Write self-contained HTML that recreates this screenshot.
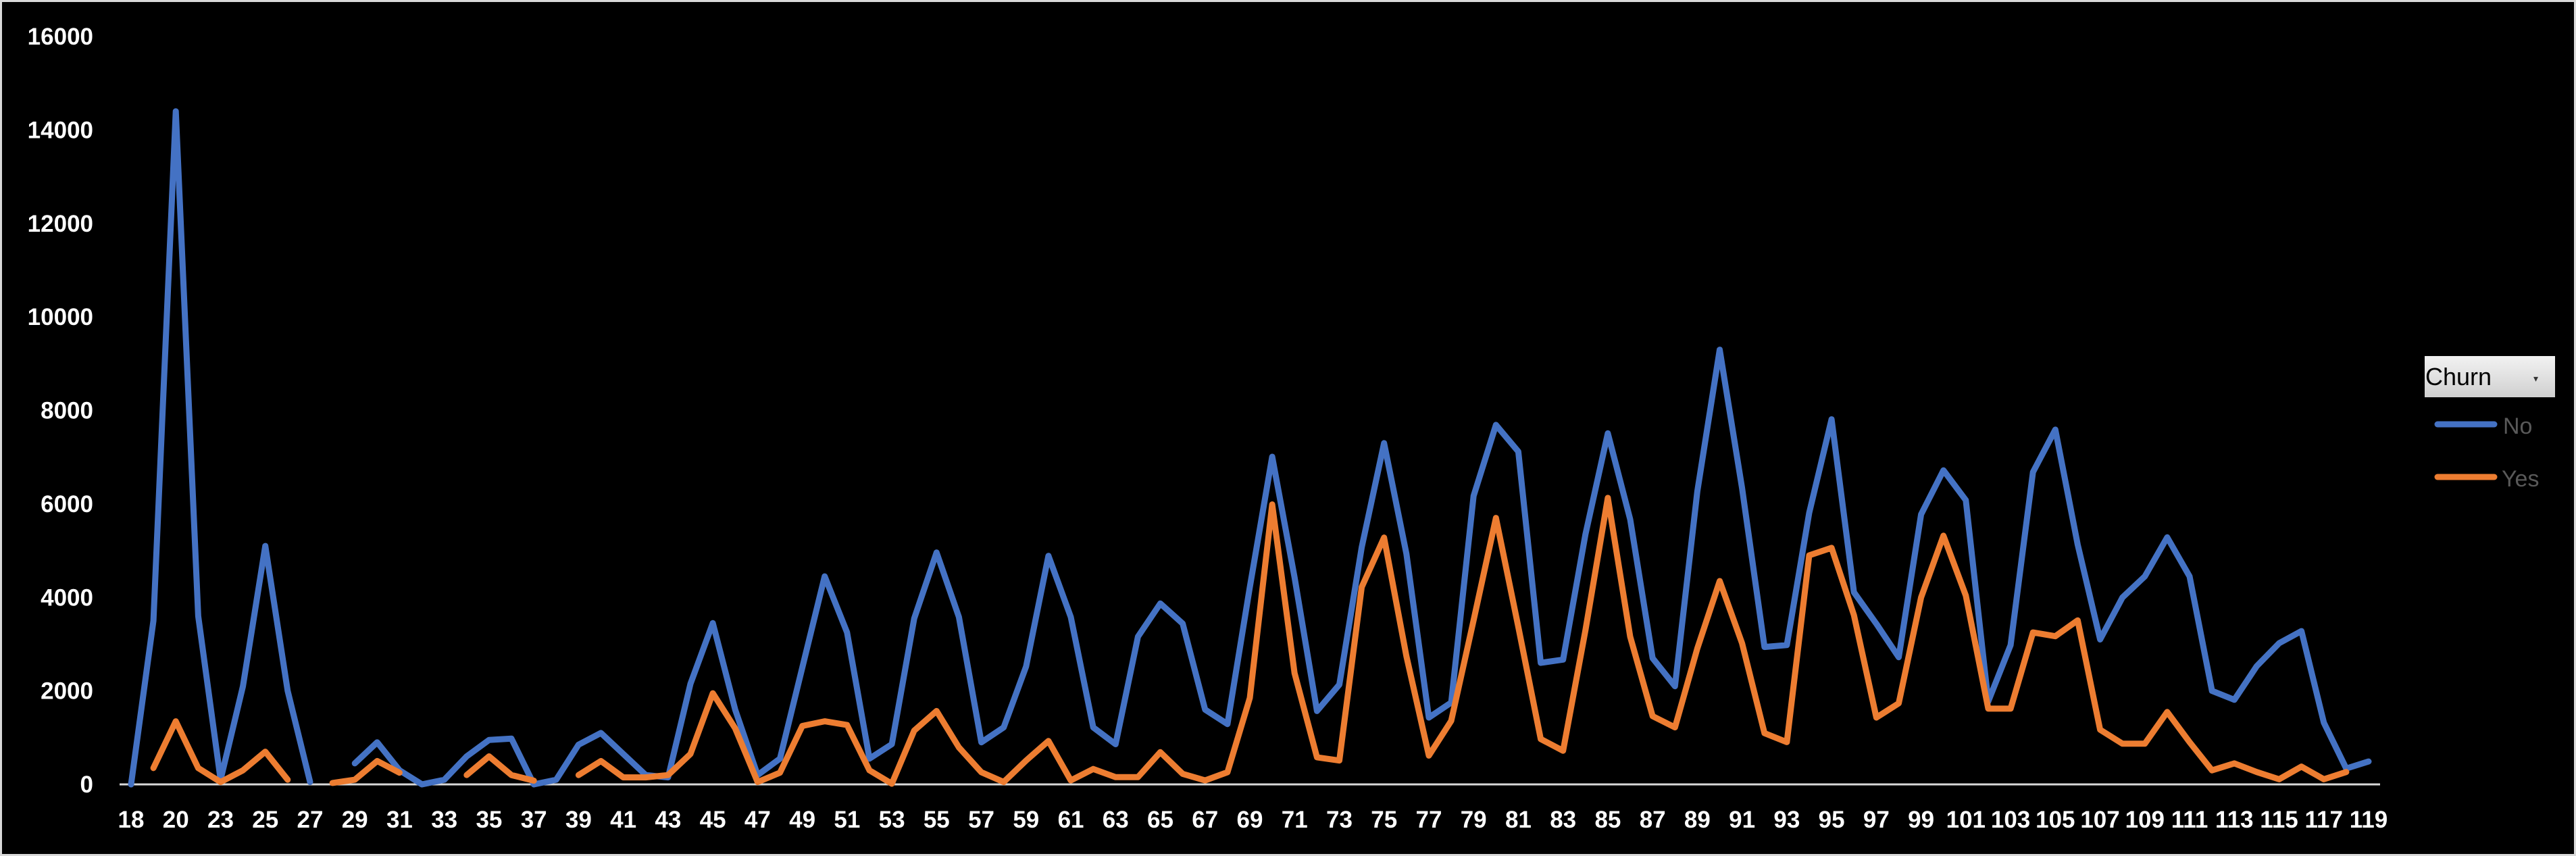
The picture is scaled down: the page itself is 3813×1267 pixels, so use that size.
<!DOCTYPE html>
<html><head><meta charset="utf-8"><style>
html,body{margin:0;padding:0;background:#000;}
#wrap{position:relative;width:3813px;height:1267px;background:#000;overflow:hidden;box-sizing:border-box;border:3px solid #d9d9d9;}
svg{position:absolute;left:0;top:0;}
text{font-family:"Liberation Sans",sans-serif;}
</style></head><body>
<div id="wrap">
<svg id="chart" width="3813" height="1267"></svg>
</div>
<script>
const categories=[18,19,20,22,23,24,25,26,27,28,29,30,31,32,33,34,35,36,37,38,39,40,41,42,43,44,45,46,47,48,49,50,51,52,53,54,55,56,57,58,59,60,61,62,63,64,65,66,67,68,69,70,71,72,73,74,75,76,77,78,79,80,81,82,83,84,85,86,87,88,89,90,91,92,93,94,95,96,97,98,99,100,101,102,103,104,105,106,107,108,109,110,111,112,113,114,115,116,117,118,119];
const seriesNo=[0,3500,14400,3600,100,2100,5100,2000,50,null,450,900,300,0,100,600,950,980,0,100,850,1100,650,200,150,2150,3450,1600,200,550,2500,4450,3250,550,860,3550,4960,3580,900,1220,2520,4890,3580,1220,860,3160,3870,3440,1600,1290,4220,7010,4430,1570,2135,5070,7300,4930,1430,1750,6170,7690,7120,2600,2670,5350,7510,5670,2700,2100,6270,9300,6340,2940,2980,5810,7810,4110,3435,2720,5775,6720,6080,1775,2980,6680,7590,5130,3100,4000,4450,5285,4450,2000,1810,2530,3020,3280,1320,340,490];
const seriesYes=[null,350,1350,350,50,300,700,100,null,30,100,500,250,null,null,200,600,200,80,null,200,500,150,150,200,650,1950,1200,50,250,1250,1350,1270,300,15,1150,1570,790,260,50,510,930,85,330,155,155,690,225,85,260,1850,5990,2380,580,510,4220,5280,2740,615,1360,3510,5700,3370,970,720,3300,6130,3160,1460,1220,2910,4350,3020,1095,905,4900,5060,3620,1430,1735,4000,5320,4040,1620,1620,3250,3170,3510,1170,870,870,1550,905,300,450,265,110,380,110,265,null];
const yTicks=[0,2000,4000,6000,8000,10000,12000,14000,16000];
const seriesNames=["No","Yes"];
const NS="http://www.w3.org/2000/svg";
const svg=document.getElementById('chart');
const X0=191,DX=33.12,Y0=1158,YMAX=16000,YH=1107;
function xPos(i){return X0+i*DX;}
function yPos(v){return Y0-v/YMAX*YH;}
function mk(t,a){const e=document.createElementNS(NS,t);for(const k in a)e.setAttribute(k,a[k]);svg.appendChild(e);return e;}
yTicks.forEach(v=>{
  const t=mk('text',{x:135,y:yPos(v)+12,'text-anchor':'end','font-size':'35','font-weight':'bold',fill:'#fff'});
  t.textContent=v;
  
  
});
const ax=mk('line',{x1:174,x2:3520,y1:Y0,y2:Y0,stroke:'#d9d9d9','stroke-width':3});


categories.forEach((c,i)=>{
  if(i%2!==0)return;
  const t=mk('text',{x:xPos(i),y:1222,'text-anchor':'middle','font-size':'35','font-weight':'bold',fill:'#fff'});
  t.textContent=c;
  
  
});
function drawSeries(data,color,name){
  let d='',pen=false;
  data.forEach((v,i)=>{
    if(v===null){pen=false;return;}
    d+=(pen?'L':'M')+xPos(i).toFixed(1)+' '+yPos(v).toFixed(1)+' ';
    pen=true;
  });
  const p=mk('path',{d:d,fill:'none',stroke:color,'stroke-width':9,'stroke-linejoin':'round','stroke-linecap':'round'});
  
  
}
drawSeries(seriesNo,'#4472c4','series-no-line');
drawSeries(seriesYes,'#ed7d31','series-yes-line');
</script>
<svg width="3813" height="1267" style="position:absolute;left:0;top:0;pointer-events:none">
<defs><linearGradient id="lg" x1="0" y1="0" x2="0" y2="1"><stop offset="0" stop-color="#f2f2f2"/><stop offset="1" stop-color="#d0d0d0"/></linearGradient></defs>
<g style="pointer-events:auto">
<rect x="3589" y="527" width="193" height="61" fill="url(#lg)"/>
<text x="3590" y="570" font-size="36" fill="#000" font-family="Liberation Sans, sans-serif">Churn</text>
<text x="3750" y="565" font-size="14" fill="#333" font-family="Liberation Sans, sans-serif">▾</text>
</g>
<line x1="3608" y1="628" x2="3692" y2="628" stroke="#4472c4" stroke-width="9" stroke-linecap="round"/>
<text x="3705" y="642" font-size="34" fill="#595959" font-family="Liberation Sans, sans-serif">No</text>
<line x1="3608" y1="706" x2="3692" y2="706" stroke="#ed7d31" stroke-width="9" stroke-linecap="round"/>
<text x="3703" y="720" font-size="34" fill="#595959" font-family="Liberation Sans, sans-serif">Yes</text>
</svg>
</body></html>
